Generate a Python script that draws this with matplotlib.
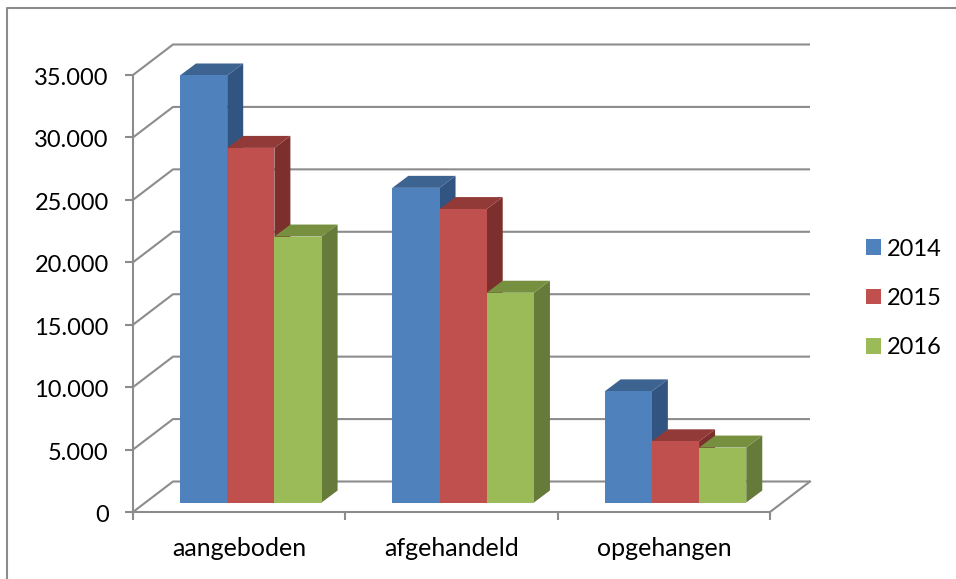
import matplotlib
matplotlib.use('Agg')
import matplotlib.pyplot as plt
from matplotlib.lines import Line2D
from matplotlib.patches import Polygon
from matplotlib.ticker import FuncFormatter
from matplotlib.transforms import ScaledTranslation

plt.rcParams['font.family'] = ['Lato', 'DejaVu Sans']

categories = ['aangeboden', 'afgehandeld', 'opgehangen']
years = ['2014', '2015', '2016']
v2014 = [34200, 25200, 8900]
v2015 = [28400, 23500, 4900]
v2016 = [21300, 16800, 4400]
y_ticks = [0, 5000, 10000, 15000, 20000, 25000, 30000, 35000]

front = ['#4F81BD', '#C0504D', '#9BBB59']
top = ['#3D6390', '#923A38', '#76903F']
side = ['#325480', '#7D2F2D', '#667A3A']
grey = '#8C8C8C'

W, H = 956, 579
fig = plt.figure(figsize=(W / 100, H / 100), dpi=100)
ax = fig.add_axes([133 / W, (H - 512) / H, 637 / W, 437 / H])
ax.set_xlim(0, 3)
ax.set_ylim(0, 35000)
ax.patch.set_alpha(0)

# pixels to data units, for the fake 3d depth
px = 3 / 637
py = 35000 / 437
wall_dx, wall_dy = 40 * px, 30.5 * py
bar_dx, bar_dy = 16 * px, 12 * py
floor = 9.5 * py
bar_w = 47.2 * px
start = 47 * px  # gap between axis/category edge and first bar

# walls
for v in y_ticks:
    ax.plot([0, wall_dx, 3 + wall_dx], [v, v + wall_dy, v + wall_dy],
            color=grey, lw=1.5, clip_on=False, zorder=1, solid_capstyle='butt')
ax.plot([3, 3 + wall_dx], [0, wall_dy], color=grey, lw=1.5, clip_on=False, zorder=1)

# bars, back to front left to right
z = 2
series = [v2014, v2015, v2016]
handles = []
for c in range(len(categories)):
    for s, vals in enumerate(series):
        x0 = c + start + s * bar_w
        x1 = x0 + bar_w
        y1 = floor + vals[c]
        ax.add_patch(Polygon([(x1, floor), (x1 + bar_dx, floor + bar_dy),
                              (x1 + bar_dx, y1 + bar_dy), (x1, y1)],
                             fc=side[s], ec='none', clip_on=False, zorder=z))
        ax.add_patch(Polygon([(x0, y1), (x0 + bar_dx, y1 + bar_dy),
                              (x1 + bar_dx, y1 + bar_dy), (x1, y1)],
                             fc=top[s], ec='none', clip_on=False, zorder=z))
        b = ax.bar(x0, vals[c], bar_w, bottom=floor, align='edge', color=front[s],
                   clip_on=False, zorder=z + 0.5, label=years[s] if c == 0 else None)
        if c == 0:
            handles.append(b)
        z += 1

ax.spines['top'].set_visible(False)
ax.spines['right'].set_visible(False)
for sp in ['left', 'bottom']:
    ax.spines[sp].set_color(grey)
    ax.spines[sp].set_linewidth(1.5)

ax.set_yticks(y_ticks)
ax.yaxis.set_major_formatter(FuncFormatter(lambda v, p: f'{int(v):,}'.replace(',', '.')))
ax.set_xticks([0, 1, 2, 3])
ax.set_xticklabels([])
ax.set_xticks([0.5, 1.5, 2.5], minor=True)
ax.set_xticklabels(categories, minor=True)
ax.tick_params(axis='y', length=6, width=1.5, color=grey, labelsize=17, pad=11.5)
ax.tick_params(axis='x', which='major', length=6, width=1.5, color=grey)
ax.tick_params(axis='x', which='minor', length=0, labelsize=18, pad=18)

# labels sit a little lower in the original
shift = ScaledTranslation(0, -1.5 / 100, fig.dpi_scale_trans)
for lab in ax.get_yticklabels():
    lab.set_transform(lab.get_transform() + shift)

ax.legend(handles=handles, loc='upper left', bbox_to_anchor=(859 / W, (H - 231.5) / H),
          bbox_transform=fig.transFigure, frameon=False, fontsize=17, handlelength=0.64,
          handleheight=0.64, handletextpad=0.25, labelspacing=1.2, borderpad=0.3,
          borderaxespad=0)

# chart border, only left and top are in view
fig.add_artist(Line2D([6.5 / W, 6.5 / W, 1], [0, (H - 8) / H, (H - 8) / H], color=grey, lw=1.5))

fig.savefig('out.png', dpi=100)
